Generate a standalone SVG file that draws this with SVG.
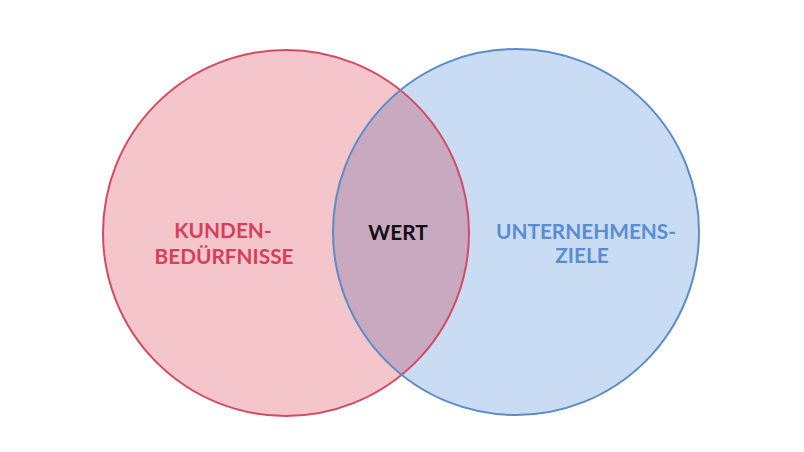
<svg xmlns="http://www.w3.org/2000/svg" width="804" height="452" viewBox="0 0 804 452">
<style>
.lbl{font-family:Lato,"Liberation Sans",sans-serif;font-weight:700;font-size:20.8px;text-anchor:middle}
.red{fill:#d63f5b}
.blue{fill:#588dcf}
.blk{fill:#120e12}
</style>
<defs>
<clipPath id="clipL"><circle cx="286" cy="233" r="183"/></clipPath>
</defs>
<rect width="804" height="452" fill="#ffffff"/>
<g id="kunden">
<circle cx="286" cy="233" r="183" fill="#f5c5cc"/>
</g>
<g id="unternehmen">
<circle cx="516" cy="232" r="183" fill="#c9dcf3"/>
</g>
<g id="wert">
<circle cx="516" cy="232" r="183" fill="#c8a9c0" clip-path="url(#clipL)"/>
</g>
<g id="outlines" fill="none" stroke-width="2">
<circle cx="286" cy="233" r="183" stroke="#d44a62"/>
<circle cx="516" cy="232" r="183" stroke="#5c8cc6"/>
</g>
<g id="labels">
<text class="lbl red" x="223" y="237.5">KUNDEN-</text>
<text class="lbl red" x="224" y="263.5">BEDÜRFNISSE</text>
<text class="lbl blk" x="398" y="240">WERT</text>
<text class="lbl blue" x="586" y="238.5">UNTERNEHMENS-</text>
<text class="lbl blue" x="582" y="262.5">ZIELE</text>
</g>
</svg>
